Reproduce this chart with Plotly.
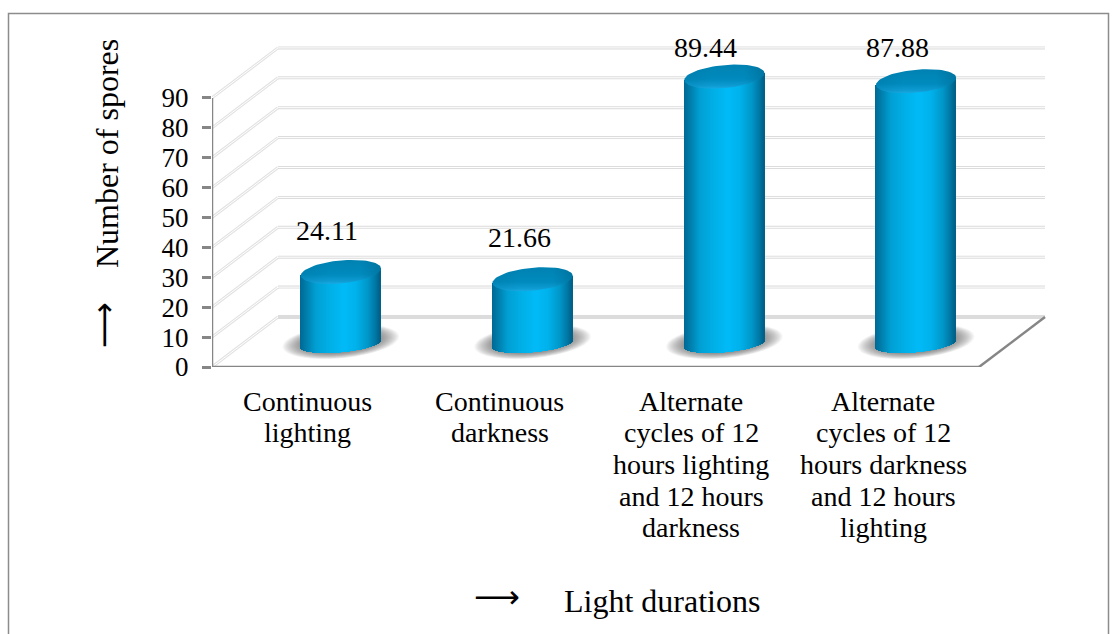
import numpy as np
import plotly.graph_objects as go

categories = ["Continuous<br>lighting", "Continuous<br>darkness",
              "Alternate<br>cycles of 12<br>hours lighting<br>and 12 hours<br>darkness",
              "Alternate<br>cycles of 12<br>hours darkness<br>and 12 hours<br>lighting"]
values = [24.11, 21.66, 89.44, 87.88]
value_labels = ["24.11", "21.66", "89.44", "87.88"]
y_ticks = [0, 10, 20, 30, 40, 50, 60, 70, 80, 90]

W, H = 1118, 634
L, T, R, B = 212, 40, 1050, 367
XU = 767 / 4          # px per category
YU = 2.99             # px per value unit
DX = 66 / XU          # depth of the 3D box, x units
DY = 50 / YU          # depth of the 3D box, y units
BX = 0.172            # bar centre shift (mid-depth)
BY = 23 / YU          # bar base lift (mid-depth)
RX = 40 / XU
RY = 11.5 / YU
TILT = 3.5 / YU
FONT = "Liberation Serif"
GRAY = "#868686"

def px(x):
    return (x - L) / (R - L)
def py(y):
    return (B - y) / (B - T)

def ellipse(cx, cy, sx=1.0, sy=1.0, n=72):
    t = np.linspace(0, 2 * np.pi, n)
    return cx + RX * sx * np.cos(t), cy + RY * sy * np.sin(t) + TILT * sx * np.cos(t)

def path(xs, ys):
    return "M" + "L".join(f"{a:.4f},{b:.4f}" for a, b in zip(xs, ys)) + "Z"

shapes = []
def seg(x0, y0, x1, y1, color, w, layer="below"):
    shapes.append(dict(type="line", xref="x", yref="y", x0=x0, y0=y0, x1=x1, y1=y1,
                       line=dict(color=color, width=w), layer=layer))

xl, xr = -0.5, 3.5
# walls
for v in y_ticks[1:]:
    seg(xl, v, xl + DX, v + DY, "#e2e2e2", 3)
    seg(xl + DX, v + DY, xr + DX, v + DY, "#dcdcdc", 3)
    seg(xl, v, xl + DX, v + DY, "#ffffff", 1)
    seg(xl + DX, v + DY, xr + DX, v + DY, "#ffffff", 1)
seg(xl, 0, xl + DX, DY, "#e2e2e2", 3)
seg(xl, 0, xl + DX, DY, "#ffffff", 1)
seg(xl + DX, DY, xr + DX, DY, "#dcdcdc", 4)
# box edges
seg(xr, 0, xr + DX, DY, GRAY, 2.5)
seg(xl, 0, xr, 0, GRAY, 2.5)
seg(xl, 0, xl, 90, GRAY, 2.5)

# shadows under the cylinders
for i in range(4):
    cx, cy = i + BX, BY + 0.8
    for s in np.linspace(1.46, 0.95, 22):
        xs, ys = ellipse(cx, cy, s, s)
        shapes.append(dict(type="path", xref="x", yref="y", path=path(xs, ys),
                           fillcolor="rgba(70,70,70,0.04)", line=dict(width=0), layer="below"))

# outer frame
shapes.append(dict(type="rect", xref="paper", yref="paper",
                   x0=px(8.5), x1=px(1108.5), y0=py(13.5), y1=py(700),
                   line=dict(color="#8c8c8c", width=1.5), fillcolor="rgba(0,0,0,0)", layer="below"))

# cylinder side colours across the width
stops_u = [-1.0, -0.85, -0.6, -0.25, 0.1, 0.4, 0.7, 0.88, 1.0]
stops_c = [(0, 105, 150), (0, 125, 170), (0, 160, 212), (0, 176, 232), (0, 187, 248),
           (0, 178, 236), (0, 150, 200), (0, 120, 165), (0, 95, 135)]
N = 80
us = (np.arange(N) + 0.5) / N * 2 - 1
sc = np.array(stops_c, float)
cols = [f"rgb({int(np.interp(u, stops_u, sc[:,0]))},{int(np.interp(u, stops_u, sc[:,1]))},{int(np.interp(u, stops_u, sc[:,2]))})" for u in us]

fig = go.Figure()
for i, v in enumerate(values):
    cx = i + BX
    xs = cx + us * RX
    lo = BY + TILT * us - 0.74 * RY * np.sqrt(1 - us ** 2)
    hi = BY + v + TILT * us
    fig.add_trace(go.Bar(x=xs, base=lo, y=hi - lo, width=2 * RX / N * 1.25,
                         marker=dict(color=cols, line=dict(width=0)),
                         showlegend=False, hoverinfo="skip", cliponaxis=False))
for i, v in enumerate(values):
    cx, cy = i + BX, BY + v
    xs, ys = ellipse(cx, cy, 1, 1)
    fig.add_trace(go.Scatter(x=xs, y=ys, mode="lines", line=dict(width=0), fill="toself",
                             fillgradient=dict(type="vertical",
                                               colorscale=[[0, "#19a9e2"], [0.12, "#0d9bd2"], [0.4, "#008abd"], [1, "#0082b2"]]),
                             showlegend=False, hoverinfo="skip"))
    fig.add_trace(go.Scatter(x=xs, y=ys, mode="lines", line=dict(width=0), fill="toself",
                             fillgradient=dict(type="horizontal",
                                               colorscale=[[0, "rgba(0,100,140,0.2)"], [0.35, "rgba(0,100,140,0)"], [0.75, "rgba(0,100,140,0)"], [1, "rgba(0,90,125,0.4)"]]),
                             showlegend=False, hoverinfo="skip"))

anns = []
label_shift = [(-14, 14), (-13, 14), (-19, 9.7), (-19, 11.2)]
for i, (v, t) in enumerate(zip(values, value_labels)):
    dx, dy = label_shift[i]
    anns.append(dict(x=i + BX + dx / XU, y=BY + v + dy, xref="x", yref="y", text=t, showarrow=False,
                     font=dict(family=FONT, size=28, color="#000"), xanchor="center", yanchor="middle"))
def note(x, y, text, size, angle=0, family=FONT):
    anns.append(dict(x=px(x), y=py(y), xref="paper", yref="paper", text=text, showarrow=False, textangle=angle,
                     font=dict(family=family, size=size, color="#000"), xanchor="center", yanchor="middle"))
note(107, 154, "Number of spores", 32, -90)
note(104, 325, "⟶", 32, -90, "DejaVu Sans")
note(662, 601, "Light durations", 32)
note(497, 597, "⟶", 32, 0, "DejaVu Sans")

# category labels, one text line at a time to hold the 31.7 px line pitch
for i, cat in enumerate(categories):
    for j, line in enumerate(cat.split("<br>")):
        anns.append(dict(x=i, y=py(401 + 31.7 * j), xref="x", yref="paper", text=line, showarrow=False,
                         font=dict(family=FONT, size=28, color="#000"), xanchor="center", yanchor="middle"))

fig.update_layout(
    width=W, height=H, margin=dict(l=L, r=W - R, t=T, b=H - B, pad=0),
    paper_bgcolor="white", plot_bgcolor="rgba(0,0,0,0)", barmode="overlay", bargap=0,
    shapes=shapes, annotations=anns, showlegend=False,
    font=dict(family=FONT, color="#000"),
    xaxis=dict(range=[-0.5, -0.5 + (R - L) / XU], showticklabels=False,
               showgrid=False, zeroline=False, showline=False, ticks=""),
    yaxis=dict(range=[0, (B - T) / YU], tickmode="array", tickvals=y_ticks, showgrid=False, zeroline=False,
               showline=False, ticks="outside", ticklen=9, tickwidth=2.5, tickcolor=GRAY, ticklabelstandoff=8,
               tickfont=dict(family=FONT, size=27, color="#000")),
)
fig.write_html("out.html", config=dict(displayModeBar=False),
               post_script="document.body.style.margin='0';document.body.style.overflow='hidden';")
